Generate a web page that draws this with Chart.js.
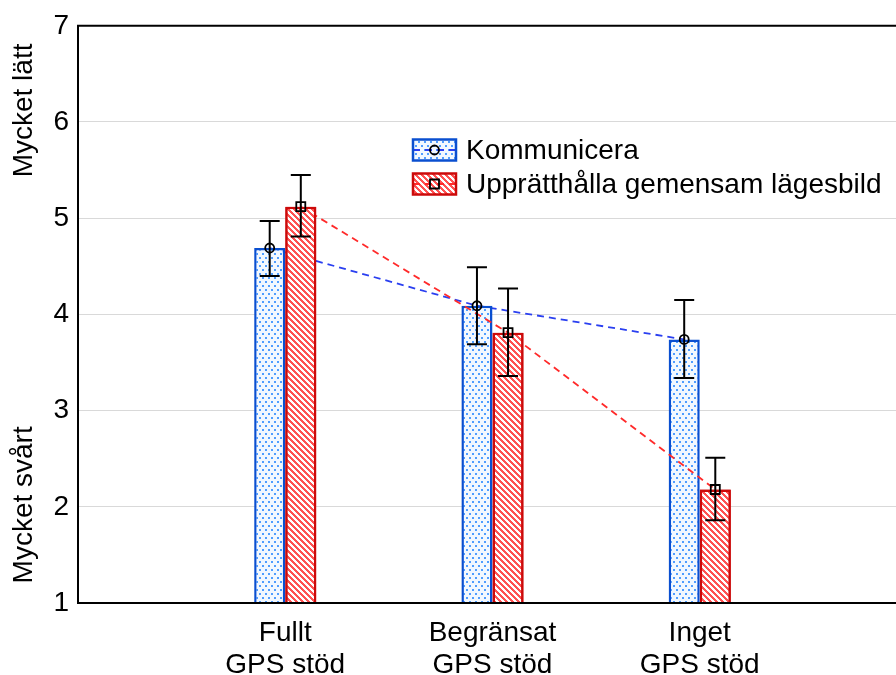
<!DOCTYPE html>
<html><head><meta charset="utf-8">
<script src="https://cdn.jsdelivr.net/npm/chart.js@4.4.1/dist/chart.umd.min.js"></script>
<style>
html,body{margin:0;padding:0;background:#fff;overflow:hidden;width:896px;height:675px}
#wrap{position:relative;width:896px;height:675px;overflow:hidden}
#c{position:absolute;left:0;top:0;width:922px;height:675px}
</style></head><body>
<div id="wrap"><canvas id="c" width="922" height="675"></canvas></div>
<script>
const categories = [['Fullt','GPS stöd'],['Begränsat','GPS stöd'],['Inget','GPS stöd']];
const seriesNames = ['Kommunicera','Upprätthålla gemensam lägesbild'];
const kommMean = [4.69, 4.09, 3.74];
const kommLow  = [4.40, 3.69, 3.34];
const kommHigh = [4.97, 4.49, 4.15];
const uppMean  = [5.12, 3.81, 2.18];
const uppLow   = [4.81, 3.36, 1.86];
const uppHigh  = [5.45, 4.27, 2.51];
const yTicks = [1,2,3,4,5,6,7];
const yTitles = ['Mycket lätt','Mycket svårt'];

const FONT = "'Liberation Sans', Arial, sans-serif";

function makeDots(){
  const w=6,h=8; const c=document.createElement('canvas'); c.width=w; c.height=h;
  const g=c.getContext('2d');
  g.fillStyle='#f2f8ff'; g.fillRect(0,0,w,h);
  g.fillStyle='#4f9dff'; g.fillRect(1,1,2,2); g.fillRect(4,5,2,2);
  return g.createPattern(c,'repeat');
}
function makeStripes(){
  const s=6; const c=document.createElement('canvas'); c.width=s; c.height=s;
  const g=c.getContext('2d');
  g.fillStyle='#ffffff'; g.fillRect(0,0,s,s);
  g.fillStyle='#ff5252';
  for(let x=0;x<s;x++) for(let y=0;y<s;y++){ if(((x-y)%s+s)%s<3) g.fillRect(x,y,1,1); }
  return g.createPattern(c,'repeat');
}
const dots=makeDots(), stripes=makeStripes();

const labels=['',...categories,''];
const pad=a=>[null,...a,null];

function drawMarker(ctx,type,x,y){
  ctx.save(); ctx.setLineDash([]); ctx.strokeStyle='#000'; ctx.lineWidth=1.8;
  ctx.beginPath();
  if(type==='circle'){ ctx.arc(x,y,4.5,0,Math.PI*2); }
  else { ctx.rect(x-4.5,y-4.5,9,9); }
  ctx.stroke(); ctx.restore();
}
function drawSeriesLine(chart,di){
  const ds=chart.data.datasets[di], meta=chart.getDatasetMeta(di), ctx=chart.ctx;
  ctx.save(); ctx.beginPath(); let first=true;
  meta.data.forEach((el,i)=>{ if(ds.data[i]==null) return; if(first){ctx.moveTo(el.x,el.y);first=false;} else ctx.lineTo(el.x,el.y); });
  ctx.setLineDash([7,5]); ctx.lineWidth=1.8; ctx.strokeStyle=ds.lineColor; ctx.stroke(); ctx.restore();
}

const seriesPlugin={
  id:'series',
  beforeDatasetsDraw(chart){
    drawSeriesLine(chart,0);
  },
  afterDatasetDraw(chart,args){
    if(args.index!==0) return;
    const ctx=chart.ctx, a=chart.chartArea;
    drawSeriesLine(chart,1);
    ctx.save();
    ctx.beginPath(); ctx.rect(a.left,a.top,a.right-a.left,a.bottom-a.top); ctx.clip();
    const meta=chart.getDatasetMeta(1);
    meta.data.forEach((el,i)=>{ if(chart.data.datasets[1].data[i]!=null) el.draw(ctx, a); });
    ctx.restore();
  },
  afterDatasetsDraw(chart){
    const ctx=chart.ctx, ys=chart.scales.y, area=chart.chartArea;
    ctx.save();
    ctx.strokeStyle='#000'; ctx.lineWidth=2; ctx.beginPath();
    ctx.moveTo(area.left-1,area.top); ctx.lineTo(chart.width,area.top); ctx.stroke();
    ctx.beginPath(); ctx.moveTo(area.left-1,area.bottom); ctx.lineTo(chart.width,area.bottom); ctx.stroke();
    chart.data.datasets.forEach((ds,di)=>{
      const meta=chart.getDatasetMeta(di);
      meta.data.forEach((el,i)=>{
        if(ds.data[i]==null) return;
        const x=el.x, yh=ys.getPixelForValue(ds.high[i]), yl=ys.getPixelForValue(ds.low[i]);
        ctx.setLineDash([]); ctx.lineWidth=2; ctx.strokeStyle='#000';
        ctx.beginPath();
        ctx.moveTo(x,yh); ctx.lineTo(x,yl);
        ctx.moveTo(x-10,yh); ctx.lineTo(x+10,yh);
        ctx.moveTo(x-10,yl); ctx.lineTo(x+10,yl);
        ctx.stroke();
        drawMarker(ctx,ds.marker,x,el.y);
      });
    });
    ctx.restore();
  },
  afterDraw(chart){
    const ctx=chart.ctx, ys=chart.scales.y;
    ctx.save();
    ctx.fillStyle='#000'; ctx.font='28px '+FONT; ctx.textAlign='center'; ctx.textBaseline='middle';
    [[yTitles[0],6.12],[yTitles[1],2.02]].forEach(([t,v])=>{
      ctx.save(); ctx.translate(24,ys.getPixelForValue(v)); ctx.rotate(-Math.PI/2); ctx.fillText(t,0,0); ctx.restore();
    });
    const items=chart.data.datasets;
    const bx=413, bw=43, bh=21, startY=150, step=34;
    items.forEach((ds,i)=>{
      const cy=startY+i*step;
      ctx.fillStyle=ds.backgroundColor; ctx.fillRect(bx,cy-bh/2,bw,bh);
      ctx.setLineDash([7,5]); ctx.strokeStyle=ds.lineColor; ctx.lineWidth=1.8;
      ctx.beginPath(); ctx.moveTo(bx,cy); ctx.lineTo(bx+bw,cy); ctx.stroke();
      ctx.setLineDash([]); ctx.strokeStyle=ds.borderColor; ctx.lineWidth=2.5;
      ctx.strokeRect(bx,cy-bh/2,bw,bh);
      drawMarker(ctx,ds.marker,bx+bw/2,cy);
      ctx.fillStyle='#000'; ctx.textAlign='left'; ctx.textBaseline='middle';
      ctx.fillText(ds.label,bx+bw+10,cy+1);
    });
    ctx.restore();
  }
};

new Chart(document.getElementById('c'),{
  type:'bar',
  data:{labels, datasets:[
    {label:seriesNames[0], data:pad(kommMean), low:pad(kommLow), high:pad(kommHigh),
     backgroundColor:dots, borderColor:'#0a4fd0', borderWidth:2.5, borderSkipped:false,
     lineColor:'#2a3ff0', marker:'circle', categoryPercentage:0.3, barPercentage:1},
    {label:seriesNames[1], data:pad(uppMean), low:pad(uppLow), high:pad(uppHigh),
     backgroundColor:stripes, borderColor:'#cc0a0a', borderWidth:2.5, borderSkipped:false,
     lineColor:'#ff2a2a', marker:'square', categoryPercentage:0.3, barPercentage:1}
  ]},
  options:{
    responsive:false, animation:false, devicePixelRatio:1,
    layout:{padding:{left:0,top:23,right:0,bottom:0}},
    plugins:{legend:{display:false}, tooltip:{enabled:false}},
    scales:{
      x:{offset:false, grid:{display:false, drawTicks:false}, border:{color:'#000',width:2},
         ticks:{color:'#000', font:{family:FONT,size:28,lineHeight:1.12}, padding:15, autoSkip:false, maxRotation:0},
         afterFit(s){s.height=72;}},
      y:{min:1,max:7, grid:{color:'#d9d9d9', lineWidth:1, drawTicks:false}, border:{color:'#000',width:2},
         ticks:{stepSize:1, color:'#000', font:{family:FONT,size:28}, padding:9},
         afterBuildTicks(s){ s.ticks=yTicks.map(v=>({value:v})); },
         afterFit(s){s.width=78;}}
    }
  },
  plugins:[seriesPlugin]
});
</script>
</body></html>
